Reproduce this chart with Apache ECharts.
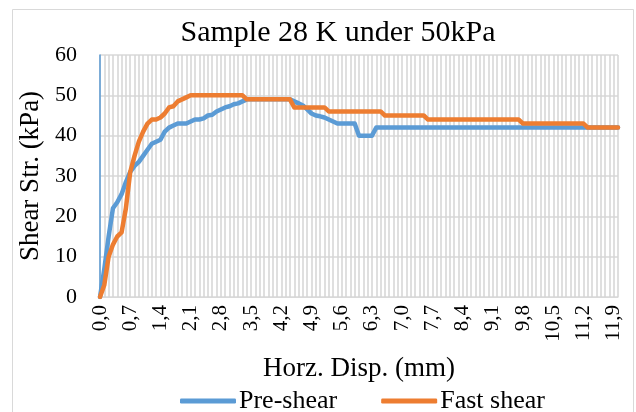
<!DOCTYPE html>
<html>
<head>
<meta charset="utf-8">
<script src="https://cdn.jsdelivr.net/npm/echarts@6/dist/echarts.min.js"></script>
<style>
  html, body { margin: 0; padding: 0; background: #fff; }
  #chart { width: 636px; height: 412px; }
</style>
</head>
<body>
<div id="chart"></div>
<script>
const dispLabels = [
  '0,0','0,1','0,2','0,3','0,4','0,5','0,6','0,7','0,8','0,9',
  '1,0','1,1','1,2','1,3','1,4','1,5','1,6','1,7','1,8','1,9',
  '2,0','2,1','2,2','2,3','2,4','2,5','2,6','2,7','2,8','2,9',
  '3,0','3,1','3,2','3,3','3,4','3,5','3,6','3,7','3,8','3,9',
  '4,0','4,1','4,2','4,3','4,4','4,5','4,6','4,7','4,8','4,9',
  '5,0','5,1','5,2','5,3','5,4','5,5','5,6','5,7','5,8','5,9',
  '6,0','6,1','6,2','6,3','6,4','6,5','6,6','6,7','6,8','6,9',
  '7,0','7,1','7,2','7,3','7,4','7,5','7,6','7,7','7,8','7,9',
  '8,0','8,1','8,2','8,3','8,4','8,5','8,6','8,7','8,8','8,9',
  '9,0','9,1','9,2','9,3','9,4','9,5','9,6','9,7','9,8','9,9',
  '10,0','10,1','10,2','10,3','10,4','10,5','10,6','10,7','10,8','10,9',
  '11,0','11,1','11,2','11,3','11,4','11,5','11,6','11,7','11,8','11,9',
  '12,0'
];

// Pre-shear, kPa
const preShear = [
  0, 7, 15, 22, 23.5, 25.5, 28.5, 31, 32.5, 33.5,
  35, 36.5, 38, 38.5, 39, 41, 42, 42.5, 43, 43,
  43, 43.5, 44, 44, 44.3, 45, 45.2, 46, 46.5, 47,
  47.3, 47.8, 48, 48.5, 49, 49, 49, 49, 49, 49,
  49, 49, 49, 49, 49, 48.5, 48, 47.5, 46.5, 45.5,
  45, 44.8, 44.5, 44, 43.5, 43, 43, 43, 43, 43,
  40, 40, 40, 40, 42, 42, 42, 42, 42, 42,
  42, 42, 42, 42, 42, 42, 42, 42, 42, 42,
  42, 42, 42, 42, 42, 42, 42, 42, 42, 42,
  42, 42, 42, 42, 42, 42, 42, 42, 42, 42,
  42, 42, 42, 42, 42, 42, 42, 42, 42, 42,
  42, 42, 42, 42, 42, 42, 42, 42, 42, 42,
  42
];

// Fast shear, kPa
const fastShear = [
  0, 3, 10, 13, 15, 16, 22, 31, 35, 38.5,
  41, 43, 44, 44, 44.5, 45.5, 47, 47.3, 48.5, 49,
  49.5, 50, 50, 50, 50, 50, 50, 50, 50, 50,
  50, 50, 50, 50, 49, 49, 49, 49, 49, 49,
  49, 49, 49, 49, 49, 47, 47, 47, 47, 47,
  47, 47, 47, 46, 46, 46, 46, 46, 46, 46,
  46, 46, 46, 46, 46, 46, 45, 45, 45, 45,
  45, 45, 45, 45, 45, 45, 44, 44, 44, 44,
  44, 44, 44, 44, 44, 44, 44, 44, 44, 44,
  44, 44, 44, 44, 44, 44, 44, 44, 43, 43,
  43, 43, 43, 43, 43, 43, 43, 43, 43, 43,
  43, 43, 43, 42, 42, 42, 42, 42, 42, 42,
  42
];

const serif = '"Liberation Serif", "DejaVu Serif", serif';
const gridGray = '#d9d9d9';

const chart = echarts.init(document.getElementById('chart'));
chart.setOption({
  animation: false,
  backgroundColor: '#fff',
  title: {
    text: 'Sample 28 K under 50kPa',
    left: 333,
    top: 13,
    textAlign: 'center',
    textStyle: { fontFamily: serif, fontSize: 30, fontWeight: 'normal', color: '#000' }
  },
  graphic: [{
    type: 'rect',
    shape: { x: 12.5, y: 9.5, width: 621, height: 420 },
    style: { fill: 'none', stroke: gridGray, lineWidth: 1 },
    silent: true
  }],
  legend: {
    data: ['Pre-shear', 'Fast shear'],
    left: 175,
    top: 383,
    icon: 'roundRect',
    itemWidth: 56,
    itemHeight: 5,
    itemGap: 44,
    textStyle: { fontFamily: serif, fontSize: 26, color: '#000', padding: [0, 0, 0, -2] }
  },
  grid: { left: 100, right: 18, top: 55, bottom: 115 },
  xAxis: {
    type: 'category',
    data: dispLabels,
    boundaryGap: false,
    name: 'Horz. Disp. (mm)',
    nameLocation: 'middle',
    nameGap: 58,
    nameTextStyle: { fontFamily: serif, fontSize: 27, color: '#000' },
    axisLine: { lineStyle: { color: gridGray } },
    axisTick: { show: false },
    axisLabel: {
      interval: 6,
      rotate: 90,
      margin: 8,
      fontFamily: serif,
      fontSize: 21,
      color: '#000'
    },
    splitLine: { show: true, interval: 0, lineStyle: { color: '#d4d4d4', width: 1.5 } }
  },
  yAxis: {
    type: 'value',
    min: 0,
    max: 60,
    interval: 10,
    name: 'Shear Str. (kPa)',
    nameLocation: 'middle',
    nameGap: 52,
    nameTextStyle: { fontFamily: serif, fontSize: 27, color: '#000' },
    axisLine: { show: true, lineStyle: { color: '#5b9bd5', width: 1.5 } },
    axisTick: { show: false },
    axisLabel: { fontFamily: serif, fontSize: 22, color: '#000', margin: 23 },
    splitLine: { lineStyle: { color: gridGray, width: 1.5 } }
  },
  series: [
    {
      name: 'Pre-shear',
      type: 'line',
      data: preShear,
      symbol: 'none',
      lineStyle: { color: '#5b9bd5', width: 4.5, cap: 'round', join: 'round' },
      itemStyle: { color: '#5b9bd5' }
    },
    {
      name: 'Fast shear',
      type: 'line',
      data: fastShear,
      symbol: 'none',
      lineStyle: { color: '#ed7d31', width: 4.5, cap: 'round', join: 'round' },
      itemStyle: { color: '#ed7d31' }
    }
  ]
});
</script>
</body>
</html>
